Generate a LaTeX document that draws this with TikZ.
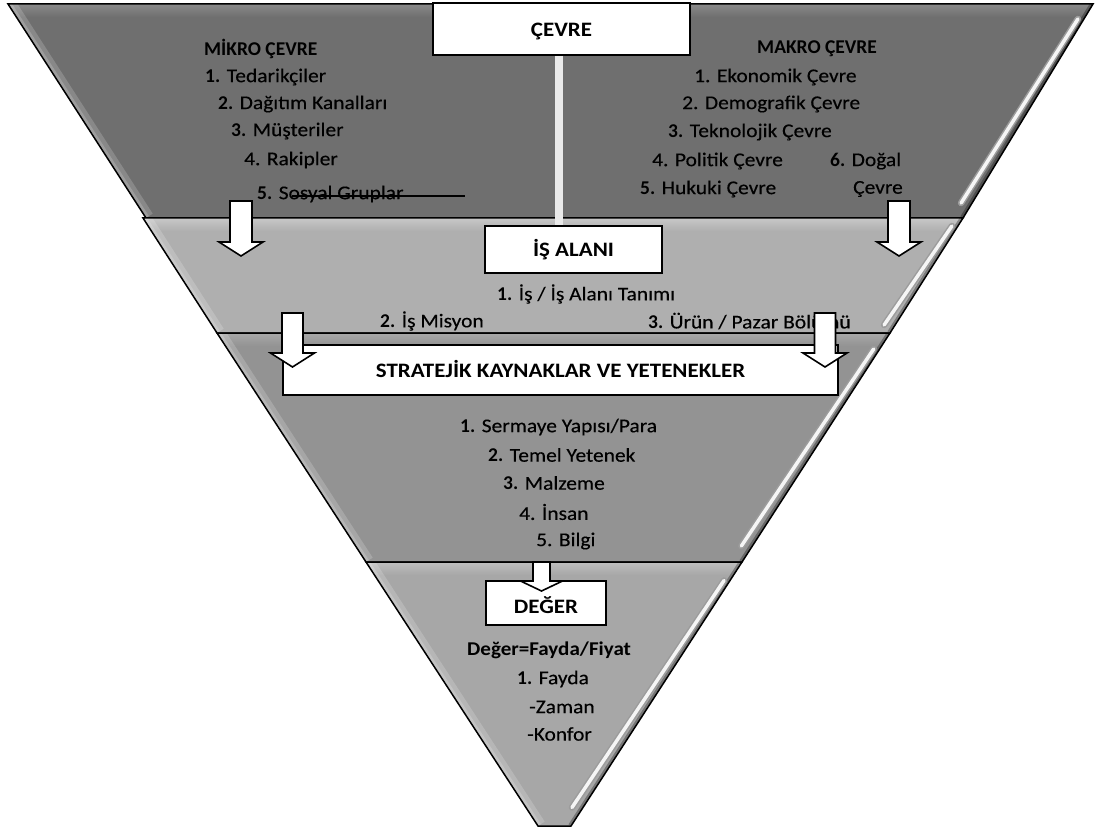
\documentclass[tikz,border=0pt]{standalone}
\usepackage{fontspec}
\setmainfont{Carlito}[UprightFeatures={FakeStretch=1.1, FakeBold=0.3}]
\usetikzlibrary{calc}

\definecolor{bandA}{HTML}{6F6F6F}
\definecolor{bandAtop}{HTML}{8E8E8E}
\definecolor{bandB}{HTML}{AFAFAF}
\definecolor{bandBtop}{HTML}{CBCBCB}
\definecolor{bandC}{HTML}{939393}
\definecolor{bandCtop}{HTML}{ABABAB}
\definecolor{bandD}{HTML}{A7A7A7}
\definecolor{bandDtop}{HTML}{C2C2C2}
\definecolor{bevelgray}{HTML}{9C9C9C}
\definecolor{bevelwhite}{HTML}{F5F5F5}
\definecolor{linkgray}{HTML}{EAEAEA}

\tikzset{
  bandline/.style={draw=black, line width=1.5pt, line join=miter},
  labelbox/.style={draw=black, line width=2pt, fill=white, inner sep=0pt,
                   text height=15pt, text depth=0pt,
                   font=\fontsize{20.5}{24}\selectfont\bfseries\addfontfeature{FakeStretch=1.12}},
  txt/.style={anchor=west, inner sep=0pt, font=\fontsize{19.5}{23}\selectfont},
  hdr/.style={anchor=west, inner sep=0pt, font=\fontsize{19.5}{23}\selectfont\bfseries},
  blockarrow/.style={draw=black, line width=1.6pt, fill=white, line join=miter},
  bevelshade/.style={line width=6.5pt, bevelgray, line cap=round},
  bevelshine/.style={line width=3.5pt, bevelwhite, line cap=round},
  linkline/.style={line width=8pt, linkgray},
  strikeline/.style={line width=1.4pt, black},
}

% one band of the funnel: corners TL, TR, BR, BL, fill colour, top highlight colour
\newcommand\drawband[6]{%
  \begin{scope}
    \clip (#1) -- (#2) -- (#3) -- (#4) -- cycle;
    \fill[#5] (#1) -- (#2) -- (#3) -- (#4) -- cycle;
    \shade[top color=#6, bottom color=#5] ($(#1)+(-10,-2)$) rectangle ($(#2)+(10,13)$);
    \draw[white, opacity=.18, line width=16pt] (#4) -- (#1);
    \draw[white, opacity=.18, line width=7pt] (#4) -- (#1);
    \draw[black, opacity=.3, line width=6pt] (#2) -- (#3);
  \end{scope}
  \draw[bevelshade] ($(#2)!.07!(#3)+(-6,0)$) -- ($(#2)!.93!(#3)+(-11,0)$);
  \draw[bevelshine] ($(#2)!.07!(#3)+(-6,0)$) -- ($(#2)!.93!(#3)+(-11,0)$);
  \draw[bandline] (#1) -- (#2) -- (#3) -- (#4) -- cycle;
}

% white block arrow pointing down: x, top, shaft half width, head half width, head base, tip
\newcommand\blockdown[6]{%
  \draw[blockarrow] ({#1-#3},#2) -- ({#1+#3},#2) -- ({#1+#3},#5) -- ({#1+#4},#5)
    -- (#1,#6) -- ({#1-#4},#5) -- ({#1-#3},#5) -- cycle;
}

\begin{document}
\begin{tikzpicture}[x=1pt, y=-1pt]
\useasboundingbox (0,0) rectangle (1095,829);

% band corners
\coordinate (a1) at (8,4);     \coordinate (a2) at (1093,4);
\coordinate (a3) at (963,218); \coordinate (a4) at (146,218);
\coordinate (b1) at (143,218); \coordinate (b2) at (963,218);
\coordinate (b3) at (890,333); \coordinate (b4) at (217,333);
\coordinate (c1) at (217,333); \coordinate (c2) at (890,333);
\coordinate (c3) at (742,562); \coordinate (c4) at (366,562);
\coordinate (d1) at (366,562); \coordinate (d2) at (742,562);
\coordinate (d3) at (571,826); \coordinate (d4) at (538,826);

\drawband{a1}{a2}{a3}{a4}{bandA}{bandAtop}
\drawband{b1}{b2}{b3}{b4}{bandB}{bandBtop}
\drawband{c1}{c2}{c3}{c4}{bandC}{bandCtop}
\drawband{d1}{d2}{d3}{d4}{bandD}{bandDtop}

% title boxes
\node[labelbox, minimum width=257pt, minimum height=52pt] (cevre) at (561.5,29) {ÇEVRE};
\node[labelbox, minimum width=177pt, minimum height=47pt] (isalani) at (573.5,249.5) {İŞ ALANI};
\node[labelbox, minimum width=555pt, minimum height=50pt] (strat) at (560.5,370) {STRATEJİK KAYNAKLAR VE YETENEKLER};
\node[labelbox, minimum width=120pt, minimum height=44pt, text height=20pt] (deger) at (546,603) {DEĞER};

% link from the environment box down to the business area
\draw[linkline] ([xshift=-2.5pt]cevre.south) -- ([xshift=-2.5pt]cevre.south |- isalani.north);

% micro environment
\node[hdr] (mikro) at (204,49) {MİKRO ÇEVRE};
\node[txt] (m1) at (205,77) {\textbf{1.} Tedarikçiler};
\node[txt] (m2) at (218,104) {\textbf{2.} Dağıtım Kanalları};
\node[txt] (m3) at (231,131) {\textbf{3.} Müşteriler};
\node[txt] (m4) at (244,160) {4. Rakipler};
\node[txt] (m5) at (257,194) {\textbf{5.} Sosyal Gruplar};
\coordinate (strikeA) at (292,196);
\coordinate (strikeB) at (465,196);
\draw[strikeline] (strikeA) -- (strikeB);

% macro environment
\node[hdr] (makro) at (757,49) {MAKRO ÇEVRE};
\node[txt] (k1) at (694,77) {1. Ekonomik Çevre};
\node[txt] (k2) at (682,104) {2. Demografik Çevre};
\node[txt] (k3) at (668,132) {\textbf{3.} Teknolojik Çevre};
\node[txt] (k4) at (652,161) {4. Politik Çevre};
\node[txt] (k6) at (830,161) {\textbf{6.} Doğal};
\node[txt] (k5) at (640,189) {\textbf{5.} Hukuki Çevre};
\node[txt] (k6b) at (853,189) {Çevre};

% business area
\node[txt] (i1) at (497,294) {\textbf{1.} İş / İş Alanı Tanımı};
\node[txt] (i2) at (380,321) {\textbf{2.} İş Misyon};
\node[txt] (i3) at (648,321) {\textbf{3.} Ürün / Pazar Bölümü};

% strategic resources
\node[txt] (s1) at (460,427) {\textbf{1.} Sermaye Yapısı/Para};
\node[txt] (s2) at (488,455) {\textbf{2.} Temel Yetenek};
\node[txt] (s3) at (503,483) {\textbf{3.} Malzeme};
\node[txt] (s4) at (519,512) {4. İnsan};
\node[txt] (s5) at (536,541) {5. Bilgi};

% value
\node[hdr, font=\fontsize{19.5}{23}\selectfont\bfseries\addfontfeature{FakeStretch=1.08}] (formula) at (467,650) {Değer=Fayda/Fiyat};
\node[txt] (v1) at (517,679) {\textbf{1.} Fayda};
\node[txt] (v2) at (529,707) {-Zaman};
\node[txt] (v3) at (527,734) {-Konfor};

% flow arrows
\blockdown{241}{201}{11}{22}{242}{256}
\blockdown{899}{201}{11}{22}{242}{256}
\blockdown{292.5}{313}{10.5}{22}{353}{367}
\blockdown{825}{313}{10.5}{22}{353}{367}
\blockdown{541.5}{562}{8.5}{21}{581}{591}
\end{tikzpicture}
\end{document}
